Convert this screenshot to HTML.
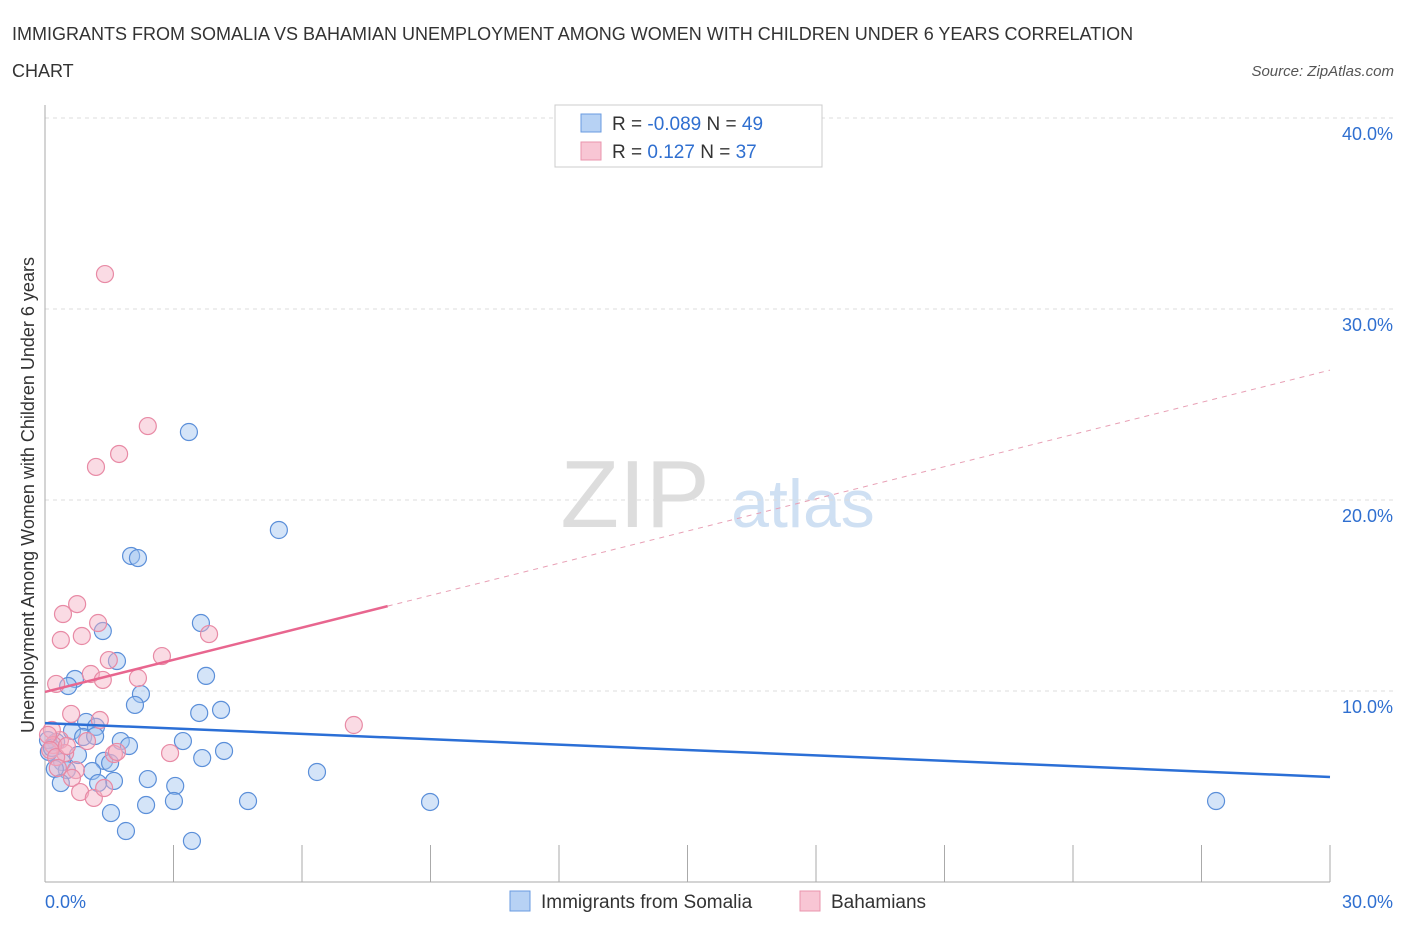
<!DOCTYPE html>
<html><head><meta charset="utf-8"><style>
body{margin:0;background:#fff;font-family:"Liberation Sans",sans-serif}
svg text{font-family:"Liberation Sans",sans-serif}
</style></head><body>
<svg id="c" width="1406" height="930" xmlns="http://www.w3.org/2000/svg">
<text x="12" y="40" font-size="18" fill="#333">IMMIGRANTS FROM SOMALIA VS BAHAMIAN UNEMPLOYMENT AMONG WOMEN WITH CHILDREN UNDER 6 YEARS CORRELATION</text>
<text x="12" y="77" font-size="18" fill="#333">CHART</text>
<text x="1394" y="76" font-size="15" fill="#555" font-style="italic" text-anchor="end">Source: ZipAtlas.com</text>
<text x="635" y="527" font-size="96" fill="#ddd" font-family="Liberation Serif" text-anchor="middle">ZIP</text>
<text x="803" y="527" font-size="68" fill="#cfe0f3" text-anchor="middle">atlas</text>
<text transform="translate(34,495) rotate(-90)" font-size="18" fill="#333" text-anchor="middle">Unemployment Among Women with Children Under 6 years</text>
<g id="grid"></g><g id="axes"></g><g id="pts"></g><g id="trend"></g>
<g>
<rect x="555" y="105" width="267" height="62" fill="#fff" stroke="#ccc"/>
<rect x="581" y="114" width="20" height="18" fill="#b7d2f4" stroke="#6a9be0"/>
<rect x="581" y="142" width="20" height="18" fill="#f8c6d4" stroke="#ea94ad"/>
<text x="612" y="130" font-size="19" fill="#333">R = <tspan fill="#2f6fd0">-0.089</tspan>   N = <tspan fill="#2f6fd0">49</tspan></text>
<text x="612" y="158" font-size="19" fill="#333">R =    <tspan fill="#2f6fd0">0.127</tspan>   N = <tspan fill="#2f6fd0">37</tspan></text>
</g>
<g>
<rect x="510" y="891" width="20" height="20" fill="#b7d2f4" stroke="#6a9be0"/>
<text x="541" y="908" font-size="19" fill="#333">Immigrants from Somalia</text>
<rect x="800" y="891" width="20" height="20" fill="#f8c6d4" stroke="#ea94ad"/>
<text x="831" y="908" font-size="19" fill="#333">Bahamians</text>
</g>
</svg>
<script>
const yTicks=[10,20,30,40];
const xTickLabels=["0.0%","30.0%"];
const blueX=[3.36,5.46,2.01,2.17,3.64,1.35,1.68,3.76,0.70,0.54,2.24,2.10,4.11,3.60,0.96,1.19,0.63,0.89,1.17,1.77,3.22,1.96,0.26,0.09,0.40,1.38,1.52,4.18,3.67,0.77,0.51,0.23,1.10,6.35,2.40,1.61,3.04,1.24,0.37,1.54,2.36,3.01,4.74,8.99,27.34,1.89,3.43,0.07,0.16];
const blueY=[23.56,18.43,17.07,16.96,13.56,13.14,11.57,10.79,10.63,10.26,9.84,9.27,9.01,8.85,8.38,8.12,7.91,7.59,7.64,7.38,7.38,7.12,7.33,6.81,6.28,6.34,6.23,6.86,6.49,6.65,5.86,5.92,5.81,5.76,5.39,5.29,5.03,5.18,5.18,3.61,4.03,4.24,4.24,4.19,4.24,2.67,2.15,7.43,7.02];
const pinkX=[1.40,2.40,1.73,1.19,0.75,0.42,1.24,3.83,0.37,0.86,2.73,1.49,1.07,1.35,2.17,0.26,0.61,1.28,7.21,0.35,0.98,2.92,1.61,0.47,0.16,0.19,0.07,0.12,0.26,0.30,0.72,0.63,0.82,1.14,1.38,1.68,0.51];
const pinkY=[31.83,23.87,22.41,21.73,14.55,14.03,13.56,12.98,12.67,12.88,11.83,11.62,10.89,10.58,10.68,10.37,8.80,8.48,8.22,7.43,7.38,6.75,6.70,6.75,7.96,7.17,7.70,6.91,6.54,5.97,5.86,5.45,4.71,4.40,4.92,6.81,7.12];
const blueTrend=[8.32,5.50];
const pinkTrend=[9.95,26.8];
const pinkSolidEnd=8;
const NS="http://www.w3.org/2000/svg";
const X=v=>45+v*(1285/30), Y=v=>882-v*19.1;
function mk(t,a,p){const e=document.createElementNS(NS,t);for(const k in a)e.setAttribute(k,a[k]);document.getElementById(p).appendChild(e);return e;}
yTicks.forEach(t=>{
 const l=mk('line',{x1:45,x2:1394,y1:Y(t),y2:Y(t),stroke:'#ddd','stroke-dasharray':'4,4'},'grid');
 
 
 const tx=mk('text',{x:1393,y:Y(t)+22,'font-size':18,fill:'#2f6fd0','text-anchor':'end'},'grid');
 tx.textContent=t.toFixed(1)+'%';
 
 
});
mk('line',{x1:45,x2:45,y1:105,y2:882,stroke:'#aaa'},'axes');
mk('line',{x1:45,x2:1330,y1:882,y2:882,stroke:'#aaa'},'axes');
for(let i=0;i<=10;i++){const t=mk('line',{x1:X(i*3),x2:X(i*3),y1:845,y2:882,stroke:'#aaa'},'axes');
 
 }
const xl0=mk('text',{x:45,y:908,'font-size':18,fill:'#2f6fd0'},'axes');xl0.textContent=xTickLabels[0];


const xl1=mk('text',{x:1393,y:908,'font-size':18,fill:'#2f6fd0','text-anchor':'end'},'axes');xl1.textContent=xTickLabels[1];


blueX.forEach((x,i)=>{const c=mk('circle',{cx:X(x),cy:Y(blueY[i]),r:8.5,fill:'rgba(160,196,240,0.45)',stroke:'#5b8fd9','stroke-width':1.2},'pts');
 
 });
pinkX.forEach((x,i)=>{const c=mk('circle',{cx:X(x),cy:Y(pinkY[i]),r:8.5,fill:'rgba(245,176,196,0.45)',stroke:'#e88aa5','stroke-width':1.2},'pts');
 
 });
const bl=mk('line',{x1:X(0),y1:Y(blueTrend[0]),x2:X(30),y2:Y(blueTrend[1]),stroke:'#2b6fd6','stroke-width':2.5},'trend');


const pe=pinkTrend[0]+(pinkTrend[1]-pinkTrend[0])*pinkSolidEnd/30;
const pl=mk('line',{x1:X(0),y1:Y(pinkTrend[0]),x2:X(pinkSolidEnd),y2:Y(pe),stroke:'#e8668f','stroke-width':2.5},'trend');


const pd=mk('line',{x1:X(pinkSolidEnd),y1:Y(pe),x2:X(30),y2:Y(pinkTrend[1]),stroke:'#e8a0b5','stroke-width':1,'stroke-dasharray':'5,5'},'trend');


</script>
</body></html>
